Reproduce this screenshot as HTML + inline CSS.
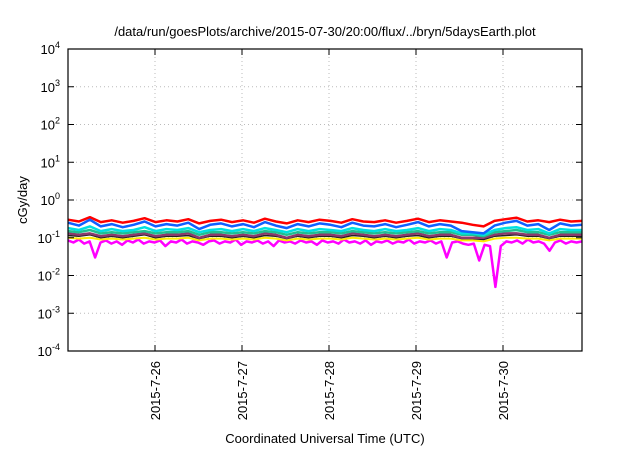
<!DOCTYPE html>
<html><head><meta charset="utf-8"><style>
body{margin:0;background:#fff;width:640px;height:448px;overflow:hidden}
svg{font-family:"Liberation Sans",sans-serif}
</style></head><body>
<svg id="c" width="640" height="448" viewBox="0 0 640 448">
<text x="325" y="36" text-anchor="middle" font-size="13">/data/run/goesPlots/archive/2015-07-30/20:00/flux/../bryn/5daysEarth.plot</text>
<text transform="translate(27,200) rotate(-90)" text-anchor="middle" font-size="13">cGy/day</text>
<text x="325" y="443" text-anchor="middle" font-size="13">Coordinated Universal Time (UTC)</text>
<g id="grid"></g><g id="series"></g><g id="axes"></g>
</svg>
<script>
const dayTicks=["2015-7-26","2015-7-27","2015-7-28","2015-7-29","2015-7-30"];
const yExps=[-4,-3,-2,-1,0,1,2,3,4];
const red=[0.30,0.27,0.35,0.26,0.29,0.25,0.28,0.33,0.26,0.29,0.27,0.31,0.24,0.28,0.30,0.26,0.29,0.25,0.32,0.27,0.24,0.29,0.26,0.30,0.28,0.25,0.31,0.27,0.26,0.29,0.25,0.28,0.32,0.26,0.29,0.27,0.25,0.22,0.20,0.28,0.31,0.34,0.27,0.29,0.26,0.30,0.27,0.28];
const blue=[0.25,0.21,0.30,0.20,0.23,0.19,0.22,0.27,0.20,0.23,0.21,0.25,0.17,0.22,0.24,0.20,0.23,0.19,0.26,0.21,0.18,0.23,0.20,0.24,0.22,0.19,0.25,0.21,0.20,0.23,0.19,0.22,0.26,0.20,0.23,0.21,0.15,0.14,0.13,0.21,0.25,0.28,0.21,0.23,0.16,0.24,0.21,0.22];
const cyan=[0.18,0.16,0.20,0.15,0.17,0.15,0.16,0.19,0.15,0.17,0.16,0.18,0.14,0.16,0.17,0.15,0.17,0.15,0.18,0.16,0.14,0.17,0.15,0.17,0.16,0.15,0.18,0.16,0.15,0.17,0.15,0.16,0.18,0.15,0.17,0.16,0.13,0.13,0.12,0.16,0.18,0.19,0.16,0.17,0.13,0.17,0.16,0.16];
const green=[0.15,0.14,0.16,0.13,0.14,0.13,0.14,0.15,0.13,0.14,0.14,0.15,0.12,0.14,0.14,0.13,0.14,0.13,0.15,0.14,0.12,0.14,0.13,0.14,0.14,0.13,0.15,0.14,0.13,0.14,0.13,0.14,0.15,0.13,0.14,0.14,0.12,0.12,0.11,0.14,0.15,0.16,0.14,0.14,0.12,0.14,0.14,0.14];
const purple=[0.13,0.12,0.13,0.11,0.12,0.11,0.12,0.13,0.11,0.12,0.12,0.13,0.10,0.12,0.12,0.11,0.12,0.11,0.13,0.12,0.10,0.12,0.11,0.12,0.12,0.11,0.13,0.12,0.11,0.12,0.11,0.12,0.13,0.11,0.12,0.12,0.10,0.10,0.10,0.12,0.13,0.13,0.12,0.12,0.10,0.12,0.12,0.12];
const black=[0.115,0.11,0.12,0.10,0.11,0.10,0.11,0.12,0.10,0.11,0.11,0.115,0.095,0.11,0.11,0.10,0.11,0.10,0.115,0.11,0.095,0.11,0.10,0.11,0.11,0.10,0.115,0.11,0.10,0.11,0.10,0.11,0.115,0.10,0.11,0.11,0.095,0.095,0.09,0.11,0.115,0.12,0.11,0.11,0.095,0.11,0.11,0.11];
const yellow=[0.10,0.095,0.10,0.09,0.095,0.09,0.095,0.10,0.09,0.095,0.095,0.10,0.085,0.095,0.095,0.09,0.095,0.09,0.10,0.095,0.085,0.095,0.09,0.095,0.095,0.09,0.10,0.095,0.09,0.095,0.09,0.095,0.10,0.09,0.095,0.095,0.085,0.085,0.08,0.095,0.10,0.10,0.095,0.095,0.085,0.095,0.095,0.095];
const magenta=[0.085,0.075,0.09,0.07,0.08,0.03,0.075,0.085,0.07,0.08,0.065,0.085,0.075,0.09,0.07,0.08,0.075,0.085,0.06,0.08,0.075,0.09,0.07,0.08,0.075,0.065,0.08,0.085,0.07,0.08,0.075,0.09,0.065,0.08,0.075,0.085,0.07,0.08,0.06,0.085,0.075,0.08,0.07,0.085,0.075,0.08,0.065,0.085,0.075,0.08,0.07,0.09,0.075,0.08,0.07,0.085,0.065,0.08,0.075,0.085,0.07,0.08,0.075,0.09,0.07,0.08,0.075,0.085,0.07,0.08,0.03,0.075,0.08,0.07,0.065,0.07,0.025,0.065,0.06,0.005,0.06,0.08,0.075,0.085,0.07,0.09,0.075,0.08,0.07,0.045,0.075,0.085,0.07,0.08,0.075,0.08];
const seriesList=[["magenta",magenta,"#ff00ff",2.5],["yellow",yellow,"#ffee00",2],["black",black,"#222222",1.5],["purple",purple,"#8b3a6b",2.5],["green",green,"#20c090",2.5],["cyan",cyan,"#00e0e0",2.5],["red",red,"#ff0000",2.5],["blue",blue,"#1060ff",2.5]];
const X0=68,X1=582,Y0=49,Y1=351,DAY=87,XMAX=(X1-X0)/DAY;
const xs=t=>X0+t*DAY;
const ys=v=>Y0+(4-Math.log10(v))*(Y1-Y0)/8;
const NS="http://www.w3.org/2000/svg";
function mk(tag,attrs,parent){const e=document.createElementNS(NS,tag);for(const k in attrs)e.setAttribute(k,attrs[k]);parent.appendChild(e);return e;}
const grid=document.getElementById('grid'),ser=document.getElementById('series'),axes=document.getElementById('axes');
yExps.forEach(ex=>{const y=ys(Math.pow(10,ex));
 if(ex>-4&&ex<4){const g=mk('line',{x1:X0,x2:X1,y1:y,y2:y,stroke:'#bbb','stroke-dasharray':'1,3'},grid);
 
 }
 mk('line',{x1:X0,x2:X0+6,y1:y,y2:y,stroke:'#000'},axes);
 mk('line',{x1:X1,x2:X1-6,y1:y,y2:y,stroke:'#000'},axes);
 const t=mk('text',{x:X0-8,y:y+5,'text-anchor':'end','font-size':'13'},axes);
 
 
 t.innerHTML='10<tspan dy="-6" font-size="9">'+ex+'</tspan>';
});
dayTicks.forEach((lab,i)=>{const x=xs(i+1);
 const g=mk('line',{x1:x,x2:x,y1:Y0,y2:Y1,stroke:'#bbb','stroke-dasharray':'1,3'},grid);
 
 
 mk('line',{x1:x,x2:x,y1:Y1,y2:Y1-6,stroke:'#000'},axes);
 mk('line',{x1:x,x2:x,y1:Y0,y2:Y0+6,stroke:'#000'},axes);
 const t=mk('text',{transform:`translate(${x+5},${Y1+10}) rotate(-90)`,'text-anchor':'end','font-size':'13'},axes);
 
 
 t.textContent=lab;
});
const fr=mk('rect',{x:X0,y:Y0,width:X1-X0,height:Y1-Y0,fill:'none',stroke:'#000','stroke-width':1.2},axes);


seriesList.forEach(([name,arr,col,w])=>{
 const pts=arr.map((v,i)=>xs(i*XMAX/(arr.length-1)).toFixed(1)+','+ys(v).toFixed(1)).join(' ');
 const p=mk('polyline',{points:pts,fill:'none',stroke:col,'stroke-width':w,'stroke-linejoin':'round'},ser);
 
 
});
</script>
</body></html>
